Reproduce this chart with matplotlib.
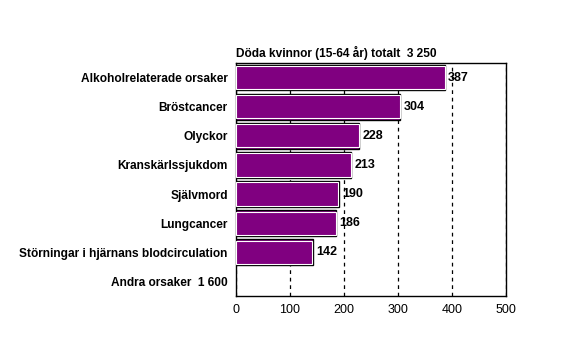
import matplotlib.pyplot as plt
import numpy as np

plt.rcParams['font.family'] = ['Liberation Sans', 'DejaVu Sans']
plt.rcParams['font.weight'] = 'bold'

# data
categories = ['Alkoholrelaterade orsaker', 'Bröstcancer', 'Olyckor', 'Kranskärlssjukdom',
              'Självmord', 'Lungcancer', 'Störningar i hjärnans blodcirculation',
              'Andra orsaker  1 600']
values = [387, 304, 228, 213, 190, 186, 142]
xticks = [0, 100, 200, 300, 400, 500]
title = 'Döda kvinnor (15-64 år) totalt  3 250'

fig = plt.figure(figsize=(5.61, 3.64), dpi=100)
ax = fig.add_axes([236 / 561, 1 - 296 / 364, 270 / 561, 233 / 364])

ypos = np.arange(len(values))
# dark outer edge + light inner edge for the 3d look
ax.barh(ypos, values, height=0.88, color='#800080', edgecolor='black', linewidth=1.0, zorder=3)
ax.barh(ypos, [v - 1.2 for v in values], height=0.80, left=0.6, color='#800080',
        edgecolor='white', linewidth=0.8, zorder=4)

for y, v in zip(ypos, values):
    ax.text(v + 6, y, str(v), va='center', ha='left', fontsize=9, fontweight='bold', zorder=5)

ax.set_xlim(0, 500)
ax.set_ylim(len(categories) - 0.5, -0.5)
ax.set_xticks(xticks)
ax.set_xticklabels([str(t) for t in xticks], fontweight='normal', fontsize=9)
ax.set_yticks(np.arange(len(categories)))
ax.set_yticklabels(categories, fontsize=8.6, fontweight='bold')
ax.tick_params(axis='y', length=0, pad=6)
ax.tick_params(axis='x', length=0, pad=6)
ax.grid(axis='x', linestyle=(0, (3, 3)), color='black', linewidth=0.9, zorder=1)
for s in ax.spines.values():
    s.set_linewidth(1.0)

ax.text(0, 1.012, title, transform=ax.transAxes, ha='left', va='bottom',
        fontsize=8.6, fontweight='bold')

fig.savefig('out.png', dpi=100)
